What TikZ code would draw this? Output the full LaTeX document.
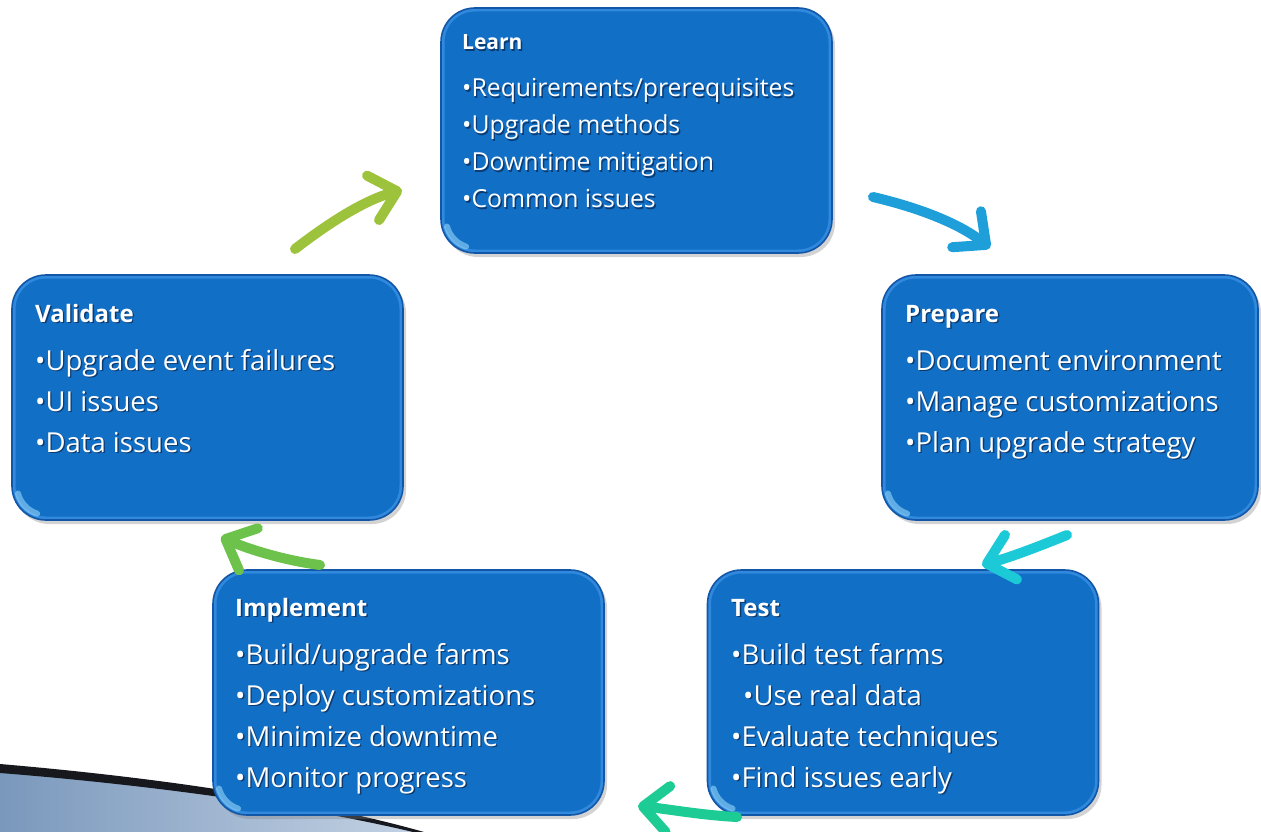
\documentclass[tikz,border=0pt]{standalone}
\usepackage{fontspec}
\setmainfont{Open Sans}
\usetikzlibrary{arrows.meta,shadows}
\definecolor{boxblue}{RGB}{17,111,198}
\definecolor{boxedge}{RGB}{18,86,168}
\definecolor{boxbevel}{RGB}{48,137,220}
\definecolor{boxglow}{RGB}{150,215,250}
\definecolor{txtshadow}{RGB}{12,58,112}
\definecolor{arrblue}{RGB}{30,159,218}
\definecolor{arrcyan}{RGB}{28,201,214}
\definecolor{arrteal}{RGB}{29,203,148}
\definecolor{arrgreen}{RGB}{108,194,74}
\definecolor{arrlime}{RGB}{157,195,60}
\definecolor{swL}{RGB}{122,152,188}
\definecolor{swR}{RGB}{196,210,228}
\definecolor{swline}{RGB}{22,24,30}
\newcommand{\shtext}[1]{\rlap{\kern1.4pt\lower1.4pt\hbox{\color{txtshadow}#1}}#1}
\newcommand{\stitle}[2][24]{\hbox{\bfseries\fontsize{#1}{41}\selectfont\shtext{#2}}}
\newcommand{\bline}[1]{\hbox{\shtext{#1}}}
\begin{document}
\begin{tikzpicture}[x=1pt,y=-1pt,
  stagebox/.style={draw=boxedge, line width=1.6pt, fill=boxblue,
    rounded corners=34pt, minimum width=391pt, minimum height=245pt,
    inner sep=0pt, drop shadow={shadow xshift=3pt, shadow yshift=-4pt, opacity=0.35},
    path picture={
      \draw[boxbevel, line width=7pt, rounded corners=34pt]
        (path picture bounding box.south west) rectangle (path picture bounding box.north east);
      \draw[boxglow, line width=6pt, line cap=round, opacity=0.6]
        ([shift={(34pt,34pt)}]path picture bounding box.south west) ++(195:29pt)
        arc[start angle=195, end angle=252, radius=29pt];
    }},
  stagetext/.style={text=white, anchor=base west, inner sep=0pt,
    font=\fontsize{27.5}{41}\selectfont},
  learntext/.style={stagetext, font=\fontsize{24.8}{37}\selectfont},
  cyc/.style={line width=10pt, line cap=round,
    -{Straight Barb[length=25pt,width=46pt,round]}}]
\useasboundingbox (0,0) rectangle (1261,832);
% bottom-left swoosh
\fill[left color=swL, right color=swR] (0,768) .. controls (140,780) and (300,800) .. (420,832) -- (0,832) -- cycle;
\fill[swline] (0,764) .. controls (140,776) and (300,797) .. (424,832) -- (413,832) .. controls (300,805) and (140,784) .. (0,773) -- cycle;
% boxes
\node[stagebox] (learn) at (636.5,130.5) {};
\node[stagebox, minimum width=376pt] (prepare) at (1070,397.5) {};
\node[stagebox] (validate) at (207.5,397.5) {};
\node[stagebox] (implement) at (408.5,692.5) {};
\node[stagebox] (test) at (903,692.5) {};
% texts
\node[learntext] (learnT) at (462,50) {\vtop{\stitle[21]{Learn}\vskip10pt
  \bline{•Requirements/prerequisites}\bline{•Upgrade methods}\bline{•Downtime mitigation}\bline{•Common issues}}};
\node[stagetext] (prepareT) at (905,322) {\vtop{\stitle{Prepare}\vskip7pt
  \bline{•Document environment}\bline{•Manage customizations}\bline{•Plan upgrade strategy}}};
\node[stagetext] (validateT) at (35,322) {\vtop{\stitle{Validate}\vskip7pt
  \bline{•Upgrade event failures}\bline{•UI issues}\bline{•Data issues}}};
\node[stagetext] (implementT) at (235,616) {\vtop{\stitle{Implement}\vskip7pt
  \bline{•Build/upgrade farms}\bline{•Deploy customizations}\bline{•Minimize downtime}\bline{•Monitor progress}}};
\node[stagetext] (testT) at (731,616) {\vtop{\stitle{Test}\vskip7pt
  \bline{•Build test farms}\bline{\hspace*{12pt}•Use real data}\bline{•Evaluate techniques}\bline{•Find issues early}}};
% arrows
\coordinate (a1s) at (873,197); \coordinate (a1e) at (990,248);
\coordinate (a2s) at (1067,535); \coordinate (a2e) at (982,565);
\coordinate (a3s) at (737,817); \coordinate (a3e) at (638,806);
\coordinate (a4s) at (320,565); \coordinate (a4e) at (221,537);
\coordinate (a5s) at (295,249); \coordinate (a5e) at (402,190);
\draw[cyc, arrblue] (a1s) .. controls (920,208) and (960,224) .. (a1e);
\draw[cyc, arrcyan] (a2s) .. controls (1035,548) and (1008,558) .. (a2e);
\draw[cyc, arrteal] (a3s) .. controls (700,815) and (668,809) .. (a3e);
\draw[cyc, arrgreen] (a4s) .. controls (288,561) and (250,550) .. (a4e);
\draw[cyc, arrlime] (a5s) .. controls (330,222) and (365,200) .. (a5e);
\end{tikzpicture}
\end{document}
